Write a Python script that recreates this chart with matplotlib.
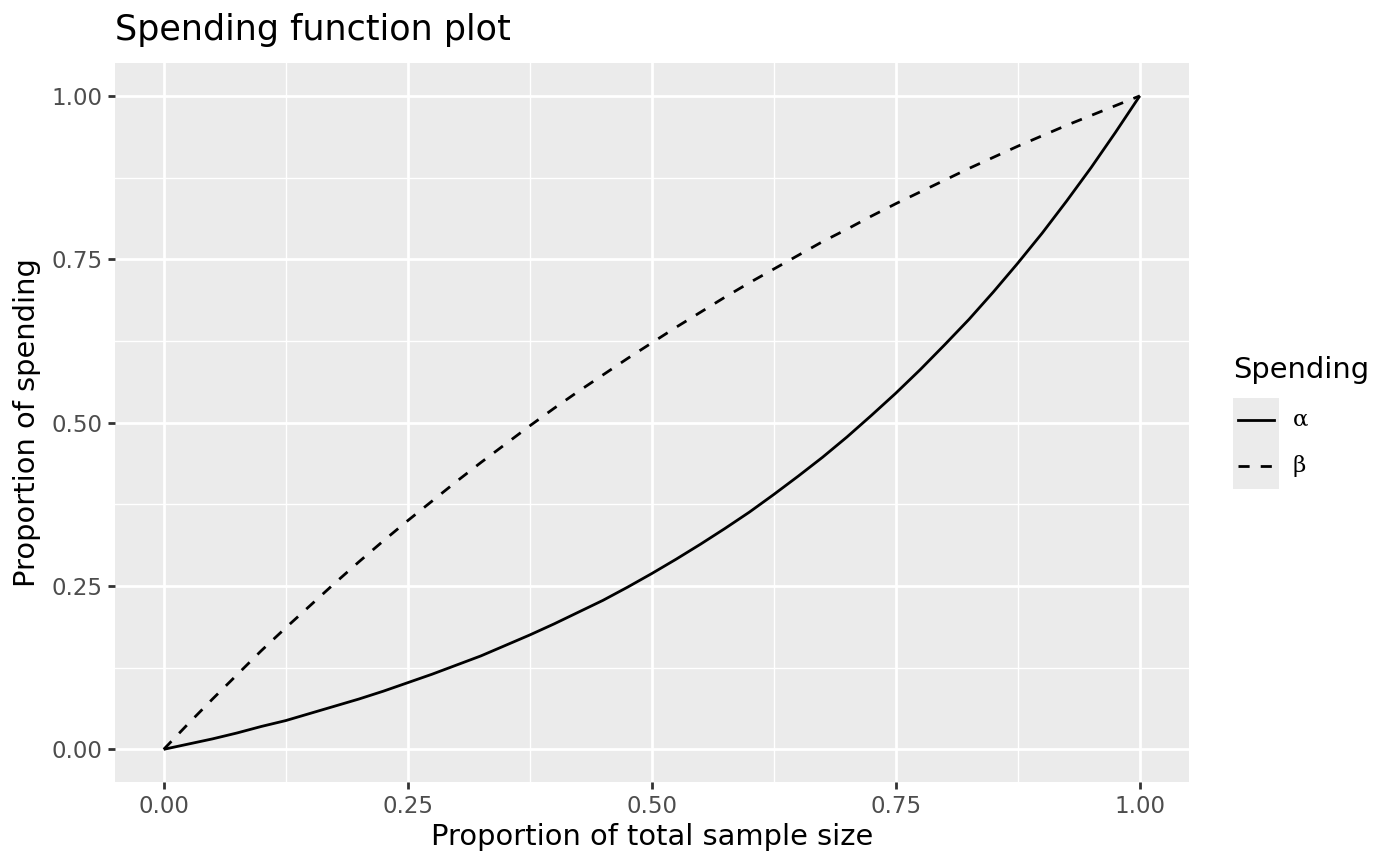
import matplotlib.pyplot as plt
from matplotlib.lines import Line2D
from matplotlib.patches import Rectangle
from matplotlib.ticker import MultipleLocator

# spending proportions
t = [0.000, 0.025, 0.050, 0.075, 0.100, 0.125, 0.150, 0.175, 0.200, 0.225,
     0.250, 0.275, 0.300, 0.325, 0.350, 0.375, 0.400, 0.425, 0.450, 0.475,
     0.500, 0.525, 0.550, 0.575, 0.600, 0.625, 0.650, 0.675, 0.700, 0.725,
     0.750, 0.775, 0.800, 0.825, 0.850, 0.875, 0.900, 0.925, 0.950, 0.975, 1.000]
alpha_spend = [0.000, 0.008, 0.016, 0.025, 0.035, 0.044, 0.055, 0.066, 0.077, 0.089,
               0.102, 0.115, 0.129, 0.143, 0.159, 0.175, 0.192, 0.210, 0.228, 0.248,
               0.269, 0.291, 0.314, 0.338, 0.363, 0.390, 0.418, 0.447, 0.478, 0.511,
               0.545, 0.581, 0.619, 0.658, 0.700, 0.744, 0.790, 0.839, 0.890, 0.944, 1.000]
beta_spend = [0.000, 0.039, 0.077, 0.114, 0.151, 0.186, 0.220, 0.254, 0.287, 0.319,
              0.350, 0.380, 0.410, 0.439, 0.467, 0.495, 0.522, 0.548, 0.573, 0.598,
              0.622, 0.646, 0.669, 0.692, 0.714, 0.735, 0.756, 0.777, 0.796, 0.816,
              0.835, 0.853, 0.871, 0.889, 0.906, 0.923, 0.939, 0.955, 0.970, 0.985, 1.000]
ticks = [0.00, 0.25, 0.50, 0.75, 1.00]
tick_labels = ["0.00", "0.25", "0.50", "0.75", "1.00"]

fig = plt.figure(figsize=(14, 8.66), dpi=100)
ax = fig.add_axes([0.0821, 0.097, 0.849 - 0.0821, 0.927 - 0.097])
ax.set_facecolor("#EBEBEB")
for s in ax.spines.values():
    s.set_visible(False)

ax.set_xlim(-0.05, 1.05)
ax.set_ylim(-0.05, 1.05)
ax.set_xticks(ticks)
ax.set_xticklabels(tick_labels)
ax.set_yticks(ticks)
ax.set_yticklabels(tick_labels)
ax.xaxis.set_minor_locator(MultipleLocator(0.125))
ax.yaxis.set_minor_locator(MultipleLocator(0.125))
ax.grid(which="major", color="white", lw=2.0)
ax.grid(which="minor", color="white", lw=1.0)
ax.set_axisbelow(True)
ax.tick_params(which="major", length=5.2, width=2.0, color="#333333",
               labelcolor="#4D4D4D", labelsize=16.5, pad=4)
ax.tick_params(which="minor", length=0)

ax.plot(t, alpha_spend, color="black", lw=2.0, solid_capstyle="butt")
ax.plot(t, beta_spend, color="black", lw=2.0, ls=(0, (4, 4)), dash_capstyle="butt")

ax.set_xlabel("Proportion of total sample size", fontsize=20.8, labelpad=4)
ax.set_ylabel("Proportion of spending", fontsize=20.8, labelpad=7)
fig.text(115 / 1400, 1 - 30 / 866, "Spending function plot", fontsize=25.2,
         ha="left", va="center")

# legend drawn by hand in ggplot style
fig.text(1233 / 1400, 1 - 370 / 866, "Spending", fontsize=20.8, ha="left", va="center")
fig.add_artist(Rectangle((1233 / 1400, 1 - 489 / 866), 46 / 1400, 91 / 866,
                         transform=fig.transFigure, facecolor="#EBEBEB", edgecolor="none"))
labels = ["α", "β"]
styles = ["-", (0, (4, 4))]
rows = [420, 466]
for lab, st, r in zip(labels, styles, rows):
    yy = 1 - r / 866
    fig.add_artist(Line2D([1238 / 1400, 1274 / 1400], [yy, yy], transform=fig.transFigure,
                          color="black", lw=2.0, ls=st, dash_capstyle="butt"))
    fig.text(1293 / 1400, yy, lab, fontsize=16.5, family="DejaVu Serif",
             ha="left", va="center")

fig.savefig("out.png", dpi=100)
